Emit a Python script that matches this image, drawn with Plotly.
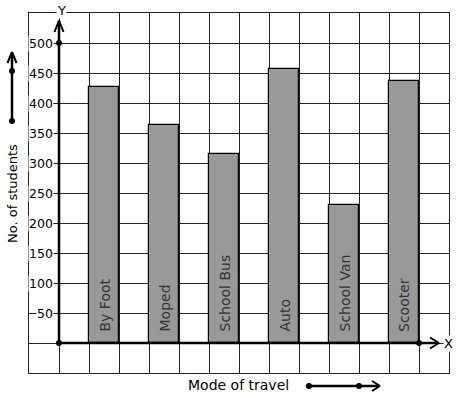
import plotly.graph_objects as go

# ---------------- data ----------------
categories = ["By Foot", "Moped", "School Bus", "Auto", "School Van", "Scooter"]
students = [427, 364, 315, 456, 230, 436]
y_ticks = [50, 100, 150, 200, 250, 300, 350, 400, 450, 500]
y_tick_labels = [str(v) for v in y_ticks]
x_title = "Mode of travel"
y_title = "No. of students"

# ---------------- layout geometry ----------------
W, H = 457, 399
L, R, T, B = 29, 8, 13, 26
X_RANGE = [-1, 13]
Y_RANGE = [-50, 550]
FONT = "DejaVu Sans"
GRID = "#222222"

bar_x = [2 * i + 1.5 for i in range(len(categories))]

def pxx(xp):
    return (xp - L) / (W - L - R)

def pxy(yp):
    return (H - B - yp) / (H - T - B)

fig = go.Figure()
fig.add_trace(go.Bar(
    x=bar_x, y=students, width=1,
    marker=dict(color="#999999", line=dict(color="black", width=1.2)),
    hoverinfo="skip", showlegend=False,
))

shapes = []
def line(x0, y0, x1, y1, w=2.5):
    shapes.append(dict(type="line", xref="paper", yref="paper",
                       x0=pxx(x0), y0=pxy(y0), x1=pxx(x1), y1=pxy(y1),
                       line=dict(color="black", width=w)))

def dot(x, y, r=3):
    shapes.append(dict(type="circle", xref="paper", yref="paper",
                       x0=pxx(x - r), x1=pxx(x + r), y0=pxy(y + r), y1=pxy(y - r),
                       fillcolor="black", line=dict(color="black", width=0)))

# Y axis with arrow
line(59, 343, 59, 21)
line(54.5, 32, 59, 20.5, 2)
line(63.5, 32, 59, 20.5, 2)
# X axis with arrow
line(59, 343, 438, 343)
line(430, 337.5, 439, 343, 2)
line(430, 348.5, 439, 343, 2)
dot(59, 343)
dot(59, 43)
dot(419, 343)
# left arrow
line(12, 121, 12, 53)
line(7.5, 63, 12, 52, 2)
line(16.5, 63, 12, 52, 2)
dot(12, 121)
dot(12, 71)
# bottom arrow
line(309, 386, 378, 386)
line(372, 381, 380, 386, 2)
line(372, 391, 380, 386, 2)
dot(309, 386)
dot(359, 386)

annotations = []
for v, t in zip(y_ticks, y_tick_labels):
    annotations.append(dict(x=0, y=v, xref="x", yref="y", text=t, showarrow=False,
                            xanchor="right", yanchor="middle", xshift=-5,
                            bgcolor="white", borderpad=0,
                            font=dict(family=FONT, size=12.5, color="black")))
for xv, c in zip(bar_x, categories):
    annotations.append(dict(x=xv, y=0, xref="x", yref="y", text=c, showarrow=False,
                            textangle=-90, xanchor="center", yanchor="bottom", yshift=9,
                            font=dict(family=FONT, size=14, color="#333333")))
annotations.append(dict(x=pxx(61), y=pxy(10), xref="paper", yref="paper", text="Y",
                        showarrow=False, xanchor="center", yanchor="middle",
                        bgcolor="white", borderpad=0,
                        font=dict(family=FONT, size=13, color="black")))
annotations.append(dict(x=pxx(448), y=pxy(343), xref="paper", yref="paper", text="X",
                        showarrow=False, xanchor="center", yanchor="middle",
                        bgcolor="white", borderpad=0,
                        font=dict(family=FONT, size=13, color="black")))
annotations.append(dict(x=pxx(238), y=pxy(385), xref="paper", yref="paper", text=x_title,
                        showarrow=False, xanchor="center", yanchor="middle",
                        font=dict(family=FONT, size=14, color="black")))
annotations.append(dict(x=pxx(12), y=pxy(194), xref="paper", yref="paper", text=y_title,
                        showarrow=False, textangle=-90, xanchor="center", yanchor="middle",
                        font=dict(family=FONT, size=13, color="black")))

fig.update_layout(
    width=W, height=H,
    margin=dict(l=L, r=R, t=T, b=B, pad=0),
    paper_bgcolor="white", plot_bgcolor="white",
    xaxis=dict(range=X_RANGE, dtick=1, tick0=0, showgrid=True, gridcolor=GRID, gridwidth=1,
               zeroline=False, showticklabels=False, ticks="", showline=True, mirror=True,
               linecolor=GRID, linewidth=1, fixedrange=True),
    yaxis=dict(range=Y_RANGE, dtick=50, tick0=0, showgrid=True, gridcolor=GRID, gridwidth=1,
               zeroline=False, showticklabels=False, ticks="", showline=True, mirror=True,
               linecolor=GRID, linewidth=1, fixedrange=True),
    shapes=shapes, annotations=annotations,
    bargap=0, showlegend=False,
)

fig.write_html("out.html", config={"displayModeBar": False})
